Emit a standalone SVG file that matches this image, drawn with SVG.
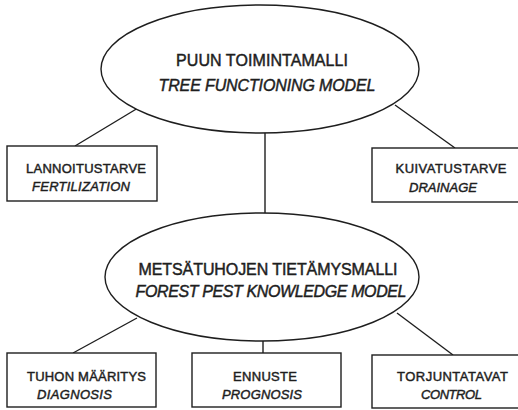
<svg xmlns="http://www.w3.org/2000/svg" width="518" height="410" viewBox="0 0 518 410">
  <style>
    .shape { fill: #ffffff; stroke: #1e1e1e; stroke-width: 1.4; }
    .link { stroke: #1e1e1e; stroke-width: 1.4; fill: none; }
    text { font-family: "Liberation Sans", Arial, sans-serif; fill: #1e1e1e; stroke: #1e1e1e; stroke-width: 0.45; text-anchor: middle; }
    .big { font-size: 16px; }
    .small { font-size: 13px; }
    .it { font-style: italic; }
  </style>
  <rect width="518" height="410" fill="#ffffff"/>

  <!-- connectors -->
  <g id="connectors">
    <line class="link" x1="265" y1="132" x2="265" y2="214"/>
    <line class="link" x1="138" y1="108" x2="75" y2="146"/>
    <line class="link" x1="395" y1="105" x2="455" y2="148"/>
    <line class="link" x1="137" y1="318" x2="73" y2="353"/>
    <line class="link" x1="263" y1="341" x2="263" y2="353"/>
    <line class="link" x1="397" y1="313" x2="453" y2="355"/>
  </g>

  <!-- tree functioning model -->
  <g id="tree-model">
    <ellipse class="shape" cx="260" cy="69" rx="159" ry="64"/>
    <text class="big" x="262" y="66" textLength="172">PUUN TOIMINTAMALLI</text>
    <text class="big it" x="267" y="91" textLength="217">TREE FUNCTIONING MODEL</text>
  </g>

  <!-- fertilization -->
  <g id="fertilization">
    <rect class="shape" x="7" y="146" width="150" height="55"/>
    <text class="small" x="86" y="173" textLength="120">LANNOITUSTARVE</text>
    <text class="small it" x="81" y="191" textLength="98">FERTILIZATION</text>
  </g>

  <!-- drainage -->
  <g id="drainage">
    <rect class="shape" x="372" y="148" width="150" height="54"/>
    <text class="small" x="451" y="173" textLength="111">KUIVATUSTARVE</text>
    <text class="small it" x="443" y="192" textLength="68">DRAINAGE</text>
  </g>

  <!-- forest pest knowledge model -->
  <g id="pest-model">
    <ellipse class="shape" cx="262" cy="277" rx="157" ry="64"/>
    <text class="big" x="268" y="275" textLength="259">METSÄTUHOJEN TIETÄMYSMALLI</text>
    <text class="big it" x="271" y="297" textLength="271">FOREST PEST KNOWLEDGE MODEL</text>
  </g>

  <!-- diagnosis -->
  <g id="diagnosis">
    <rect class="shape" x="7" y="353" width="149" height="54"/>
    <text class="small" x="86.5" y="381" textLength="119">TUHON MÄÄRITYS</text>
    <text class="small it" x="74.5" y="399" textLength="75">DIAGNOSIS</text>
  </g>

  <!-- prognosis -->
  <g id="prognosis">
    <rect class="shape" x="192" y="353" width="149" height="54"/>
    <text class="small" x="265" y="381" textLength="64">ENNUSTE</text>
    <text class="small it" x="262" y="399" textLength="80">PROGNOSIS</text>
  </g>

  <!-- control -->
  <g id="control">
    <rect class="shape" x="372" y="355" width="150" height="53"/>
    <text class="small" x="452.5" y="381" textLength="111">TORJUNTATAVAT</text>
    <text class="small it" x="451.5" y="399" textLength="61">CONTROL</text>
  </g>
</svg>
